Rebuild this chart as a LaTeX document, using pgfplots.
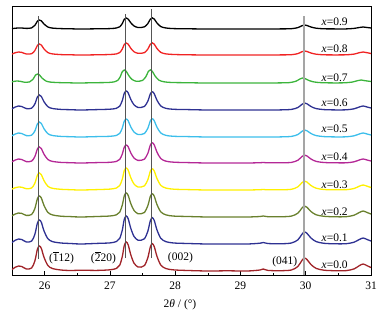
\documentclass[border=0pt]{standalone}
\usepackage{pgfplots}
\pgfplotsset{compat=1.18}
\usepackage{pgfplotstable}
\usepackage{fontspec}
\setmainfont{Liberation Serif}
\definecolor{c0}{RGB}{160,35,40}
\definecolor{c1}{RGB}{46,49,146}
\definecolor{c2}{RGB}{105,128,45}
\definecolor{c3}{RGB}{255,240,0}
\definecolor{c4}{RGB}{180,40,150}
\definecolor{c5}{RGB}{60,190,235}
\definecolor{c6}{RGB}{46,49,146}
\definecolor{c7}{RGB}{60,180,60}
\definecolor{c8}{RGB}{240,35,35}
\definecolor{c9}{RGB}{0,0,0}
\definecolor{vdark}{RGB}{85,85,85}
\definecolor{vlight}{RGB}{165,165,165}
\pgfplotstableread{
x xg y0 y1 y2 y3 y4 y5 y6 y7 y8 y9
25.50 25.47 5.5 32.5 59.2 85.9 113.2 139.2 166.2 192.6 220.9 246.3
25.55 25.52 7.8 34.8 61.0 87.3 115.0 141.0 168.0 193.5 222.3 246.8
25.60 25.57 9.0 36.0 62.0 88.0 116.0 142.0 169.0 194.0 223.0 247.0
25.65 25.62 8.5 35.5 61.6 87.8 115.5 141.5 168.5 193.8 222.6 247.0
25.72 25.69 6.0 33.0 59.6 86.3 113.4 139.4 166.4 192.8 221.0 246.6
25.80 25.77 7.0 33.9 60.5 87.0 113.9 139.8 166.8 193.1 221.3 247.1
25.85 25.82 14.0 40.6 66.4 91.8 118.4 144.0 171.0 195.6 224.4 249.6
25.89 25.86 26.0 52.1 76.5 100.0 126.1 151.2 178.2 199.9 229.7 253.9
25.92 25.89 29.0 55.0 79.0 102.0 128.0 153.0 180.0 201.0 231.0 255.0
25.95 25.92 26.5 52.6 76.9 100.3 126.4 151.5 178.5 200.1 229.9 254.1
25.99 25.96 17.8 44.2 69.6 94.4 120.8 146.3 173.3 197.0 226.1 251.0
26.05 26.02 9.5 36.3 62.6 88.7 115.5 141.3 168.3 194.0 222.4 248.0
26.12 26.09 6.5 33.4 60.1 86.7 113.6 139.5 166.5 192.9 221.1 246.9
26.25 26.22 5.0 32.0 58.8 85.7 112.6 138.6 165.6 192.4 220.4 246.4
26.40 26.37 4.5 31.5 58.4 85.3 112.3 138.3 165.3 192.2 220.2 246.2
26.55 26.52 4.8 31.0 58.0 85.0 112.0 138.0 165.0 192.0 220.0 246.0
26.80 26.77 4.6 31.6 58.5 85.4 112.4 138.4 165.4 192.3 220.2 246.2
27.00 26.97 5.2 32.1 59.0 85.9 112.7 138.7 165.8 192.5 220.5 246.4
27.10 27.07 6.6 33.5 60.2 87.0 113.6 139.6 166.7 193.2 221.1 247.0
27.15 27.12 9.8 36.6 62.8 89.4 115.6 141.6 168.8 194.6 222.4 248.2
27.19 27.16 18.5 45.0 70.0 96.0 121.0 147.0 174.5 198.5 226.0 251.5
27.22 27.19 29.5 55.6 79.1 104.4 127.8 153.8 181.7 203.4 230.6 255.7
27.25 27.22 33.0 59.0 82.0 107.0 130.0 156.0 184.0 205.0 232.0 257.0
27.28 27.25 30.1 56.2 79.6 104.8 128.2 154.2 182.1 203.7 230.8 255.9
27.32 27.29 20.2 46.7 71.4 97.3 122.1 148.1 175.6 199.3 226.7 252.2
27.37 27.34 11.8 38.5 64.5 90.9 116.9 142.9 170.1 195.5 223.2 249.0
27.43 27.40 8.0 34.8 61.3 88.0 114.6 140.5 167.6 193.8 221.7 247.5
27.48 27.45 7.9 34.8 61.3 88.0 114.7 140.5 167.6 193.8 221.7 247.5
27.53 27.50 9.5 36.3 62.6 89.2 115.9 141.6 168.6 194.6 222.4 248.2
27.58 27.55 17.0 43.5 69.1 95.1 121.5 146.6 173.7 198.2 225.8 251.3
27.62 27.59 28.3 54.4 78.7 103.9 130.0 154.2 181.2 203.7 230.8 255.9
27.65 27.62 31.3 57.3 81.2 106.2 132.2 156.2 183.2 205.1 232.1 257.1
27.68 27.65 28.3 54.4 78.7 103.9 130.0 154.2 181.2 203.7 230.8 255.9
27.72 27.69 18.9 45.3 70.7 96.6 123.0 147.9 174.9 199.2 226.6 252.1
27.78 27.75 9.9 36.7 63.1 89.6 116.4 142.0 169.0 194.9 222.6 248.4
27.86 27.83 6.4 33.3 60.1 86.9 113.8 139.6 166.6 193.2 221.1 247.0
27.98 27.95 5.1 32.0 58.9 85.8 112.8 138.7 165.7 192.5 220.5 246.4
28.20 28.17 4.5 31.5 58.5 85.4 112.4 138.4 165.4 192.3 220.2 246.2
28.50 28.47 4.0 31.0 58.0 85.0 112.0 138.0 165.0 192.0 220.0 246.0
28.80 28.77 4.2 31.1 58.1 85.1 112.1 138.1 165.1 192.1 220.1 246.1
29.10 29.07 4.0 31.0 58.0 85.0 112.0 138.0 165.0 192.0 220.0 246.0
29.30 29.27 5.0 31.8 58.5 85.3 112.3 138.0 165.0 192.0 220.0 246.0
29.35 29.32 6.0 32.5 59.0 85.5 112.5 138.0 165.0 192.0 220.0 246.0
29.42 29.39 4.6 31.5 58.3 85.2 112.2 138.0 165.0 192.0 220.0 246.0
29.60 29.57 4.3 31.2 58.2 85.2 112.2 138.1 165.1 192.1 220.1 246.1
29.78 29.75 5.0 32.0 58.9 85.7 112.6 138.6 165.6 192.4 220.3 246.3
29.88 29.85 8.6 35.2 61.9 88.2 114.8 140.5 167.5 193.8 221.4 247.4
29.94 29.91 14.4 40.6 66.8 92.2 118.4 143.6 170.6 196.0 223.2 249.2
29.98 29.95 17.0 43.0 69.0 94.0 120.0 145.0 172.0 197.0 224.0 250.0
30.02 29.99 15.4 41.6 67.7 92.9 119.0 144.2 171.2 196.4 223.5 249.5
30.08 30.05 10.5 37.0 63.5 89.5 116.0 141.5 168.5 194.5 222.0 248.0
30.16 30.13 6.6 33.4 60.2 86.8 113.6 139.4 166.4 193.0 220.8 246.8
30.28 30.25 4.8 31.7 58.7 85.5 112.5 138.4 165.4 192.3 220.2 246.2
30.45 30.42 4.3 31.2 58.2 85.2 112.2 138.1 165.1 192.1 220.1 246.1
30.62 30.59 4.4 31.3 58.3 85.3 112.2 138.2 165.2 192.2 220.2 246.1
30.74 30.71 6.1 32.8 59.8 86.5 113.2 139.2 166.2 192.9 220.9 246.6
30.82 30.79 9.3 35.5 62.5 88.8 115.0 141.0 168.0 194.3 222.3 247.5
30.88 30.85 11.0 37.0 64.0 90.0 116.0 142.0 169.0 195.0 223.0 248.0
30.94 30.91 9.3 35.5 62.5 88.8 115.0 141.0 168.0 194.3 222.3 247.5
31.00 31.00 7.5 34.0 61.0 87.5 114.0 140.0 167.0 193.5 221.5 247.0
}\data
\begin{document}
\begin{tikzpicture}
\begin{axis}[
  name=ax,
  width=359pt, height=269pt, scale only axis,
  xmin=25.5, xmax=31, ymin=0, ymax=269,
  xtick={26,27,28,29,30,31},
  minor xtick={25.5,26.5,27.5,28.5,29.5,30.5},
  xtick pos=bottom, ytick=\empty,
  tick align=inside,
  major tick length=4pt, minor tick length=2.5pt,
  tick style={black, line width=0.6pt},
  axis line style={black, line width=0.7pt},
  ticklabel style={font=\fontsize{11.5}{13}\selectfont},
  /pgf/number format/assume math mode=true,
  xticklabel style={yshift=-3pt},
  xlabel={2\textit{θ} / (°)},
  xlabel style={font=\fontsize{11.5}{13}\selectfont, at={(ticklabel cs:0.468)}, anchor=north, yshift=-3pt},
  every axis plot/.append style={line width=1.3pt, smooth, tension=0.5},
  clip=true,
]
\addplot[c0] table[x=x,y=y0]{\data};
\addplot[c1] table[x=x,y=y1]{\data};
\addplot[c2] table[x=x,y=y2]{\data};
\addplot[c3] table[x=x,y=y3]{\data};
\addplot[c4] table[x=x,y=y4]{\data};
\addplot[c5] table[x=x,y=y5]{\data};
\addplot[c6] table[x=x,y=y6]{\data};
\addplot[c7] table[x=xg,y=y7]{\data};
\addplot[c8] table[x=x,y=y8]{\data};
\addplot[c9] table[x=x,y=y9]{\data};
\addplot[vdark, line width=0.7pt, sharp plot] coordinates {(25.91,16) (25.91,259)};
\addplot[vdark, line width=0.7pt, sharp plot] coordinates {(27.24,17) (27.24,261)};
\addplot[vdark, line width=0.7pt, sharp plot] coordinates {(27.63,17) (27.63,266)};
\addplot[vlight, line width=1.6pt, sharp plot] coordinates {(29.97,0) (29.97,259)};
\begin{scope}[font=\fontsize{11.5}{13}\selectfont]
\node[anchor=base west] at (axis cs:30.19,250) {\textit{x}=0.9};
\node[anchor=base west] at (axis cs:30.19,222.7) {\textit{x}=0.8};
\node[anchor=base west] at (axis cs:30.19,193.3) {\textit{x}=0.7};
\node[anchor=base west] at (axis cs:30.19,169) {\textit{x}=0.6};
\node[anchor=base west] at (axis cs:30.19,142.3) {\textit{x}=0.5};
\node[anchor=base west] at (axis cs:30.19,114.5) {\textit{x}=0.4};
\node[anchor=base west] at (axis cs:30.19,86.7) {\textit{x}=0.3};
\node[anchor=base west] at (axis cs:30.19,60) {\textit{x}=0.2};
\node[anchor=base west] at (axis cs:30.19,33.3) {\textit{x}=0.1};
\node[anchor=base west] at (axis cs:30.19,6.7) {\textit{x}=0.0};
\node[anchor=base] at (axis cs:26.26,14) {($\overline{\mbox{1}}$12)};
\node[anchor=base] at (axis cs:26.90,14) {($\overline{\mbox{2}}$20)};
\node[anchor=base] at (axis cs:28.08,15) {(002)};
\node[anchor=base] at (axis cs:29.68,11) {(041)};
\end{scope}
\end{axis}
\path ([shift={(-12pt,-42pt)}]ax.south west) rectangle ([shift={(13pt,6pt)}]ax.north east);
\end{tikzpicture}
\end{document}
